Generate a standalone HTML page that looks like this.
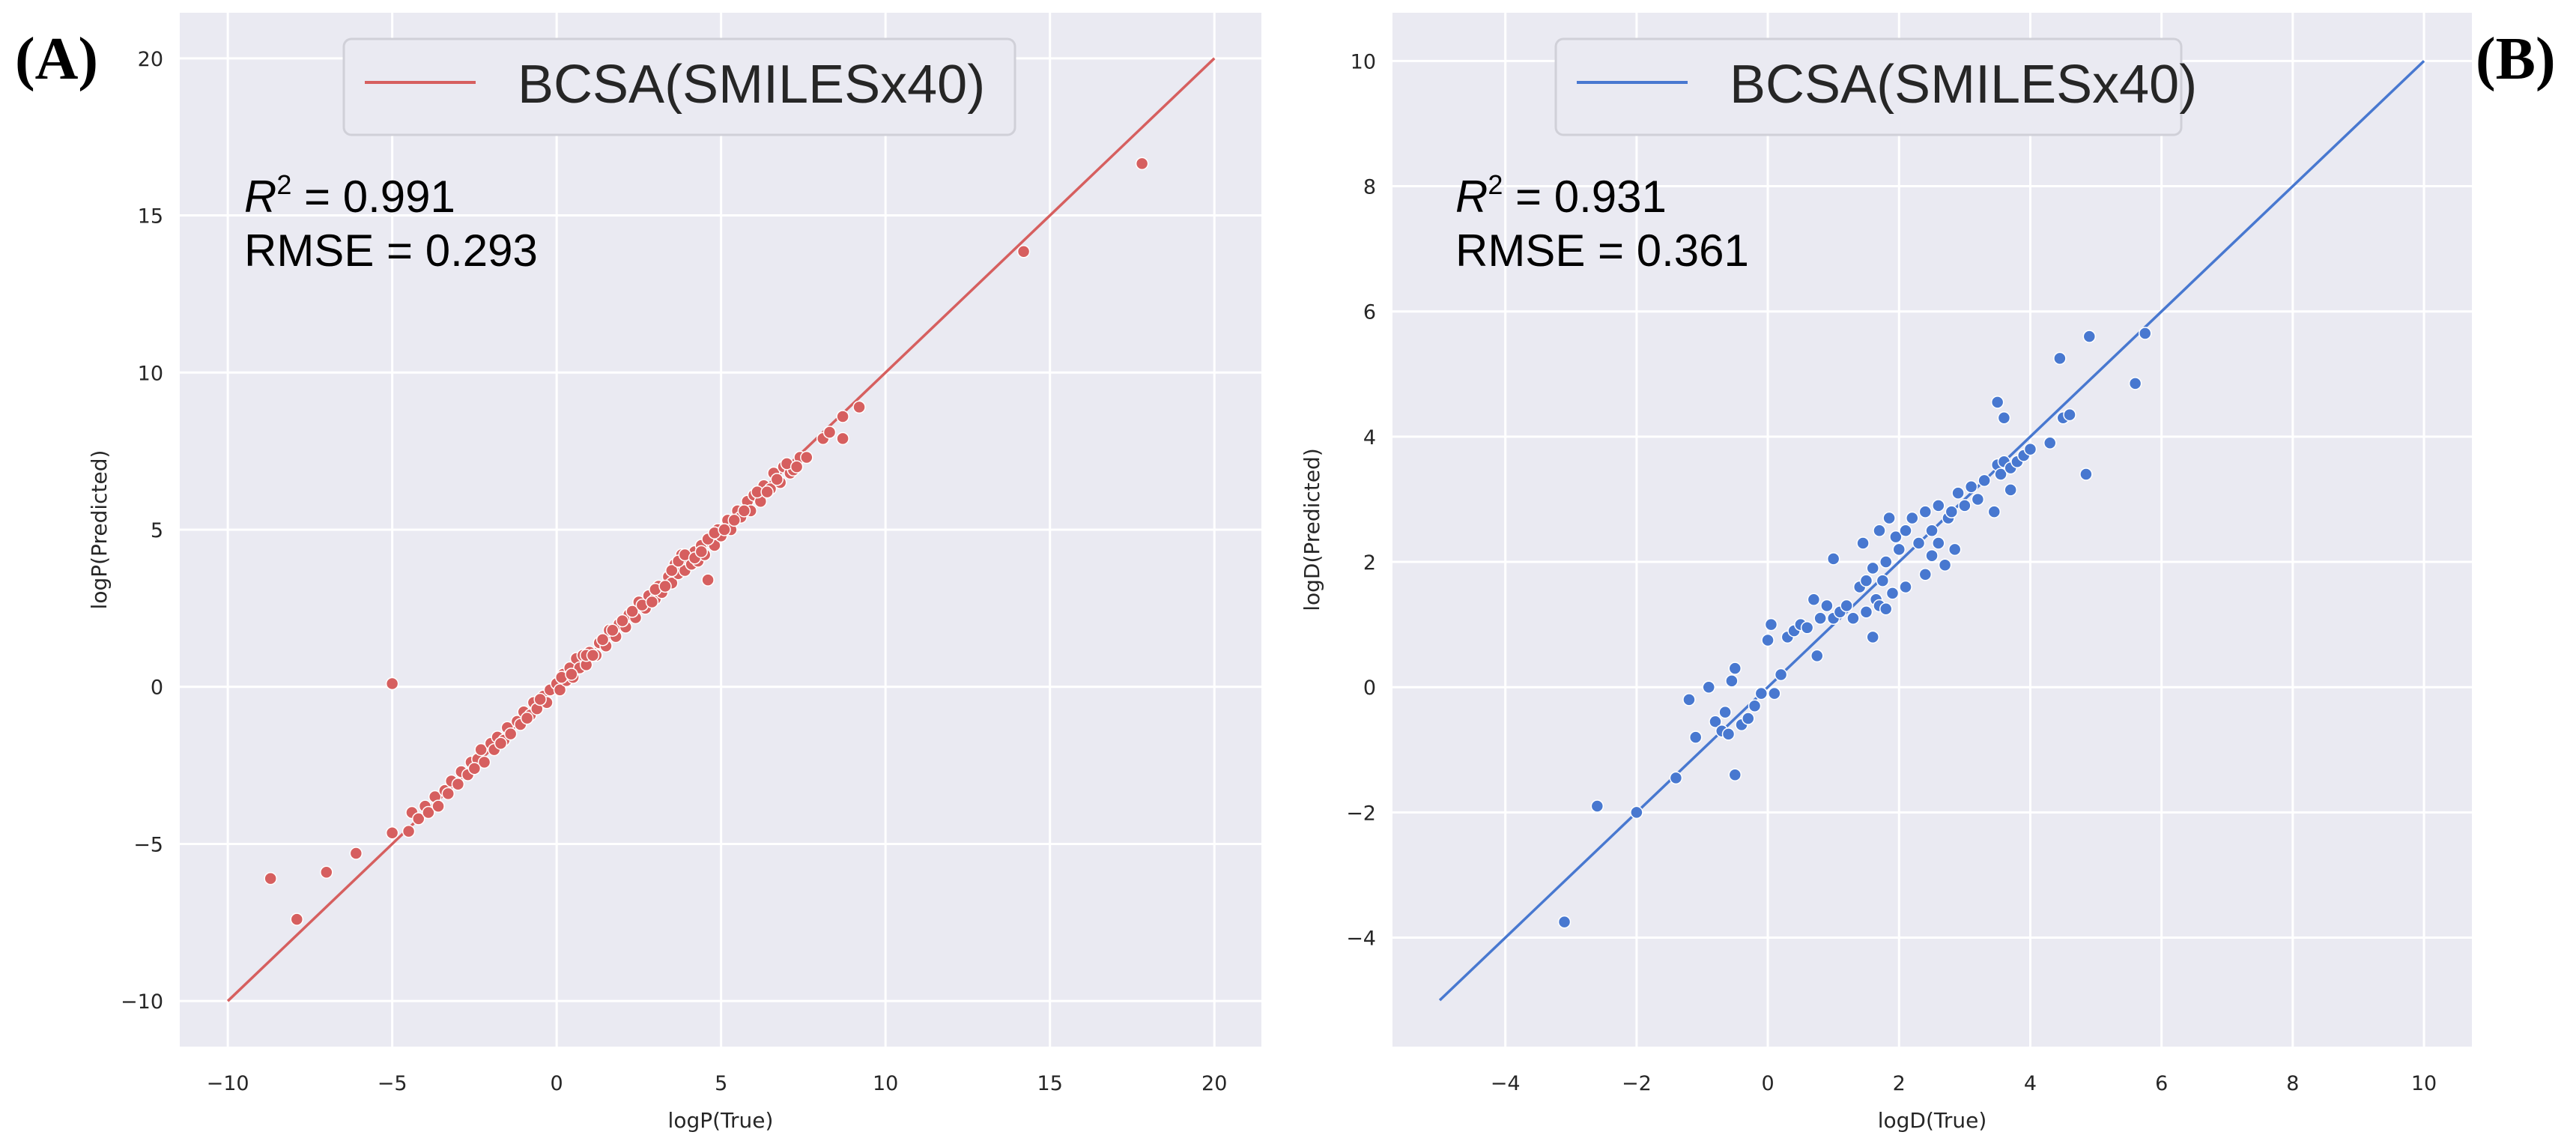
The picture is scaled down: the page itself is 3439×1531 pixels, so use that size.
<!DOCTYPE html>
<html><head><meta charset="utf-8"><style>
html,body{margin:0;padding:0;background:#fff;}
svg{display:block;}
</style></head><body>
<svg id="fig" width="3439" height="1531" xmlns="http://www.w3.org/2000/svg">
<text x="20" y="105" font-family="Liberation Serif, serif" font-weight="bold" font-size="80" fill="#000">(A)</text>
<text x="3305" y="105" font-family="Liberation Serif, serif" font-weight="bold" font-size="80" fill="#000">(B)</text>
<g id="pA"></g>
<g id="pB"></g>
</svg>
<script>
const ticksA = [-10,-5,0,5,10,15,20];
const ticksB = [-4,-2,0,2,4,6,8,10];
const pointsA = [
[-8.7,-6.1],[-7.9,-7.4],[-7.0,-5.9],[-6.1,-5.3],[-5.0,0.1],[-5.0,-4.65],[-4.5,-4.6],[-4.4,-4.0],[-4.2,-4.2],[-4.0,-3.8],[-3.9,-4.0],[-3.7,-3.5],[-3.6,-3.8],[-3.4,-3.3],[-3.2,-3.0],[-3.0,-3.1],[-2.9,-2.7],[-2.7,-2.8],[-2.6,-2.4],[-2.4,-2.3],[-2.3,-2.0],[-2.2,-2.4],[-2.0,-1.8],[-1.9,-2.0],[-1.8,-1.6],[-1.6,-1.7],[-1.5,-1.3],[-1.4,-1.5],[-1.2,-1.1],[-1.1,-1.2],[-1.0,-0.8],[-0.8,-0.9],[-0.7,-0.5],[-0.6,-0.7],[-0.4,-0.3],[-0.3,-0.5],[-0.2,-0.1],[0.0,0.1],[0.1,-0.1],[0.2,0.4],[0.3,0.2],[0.4,0.6],[0.5,0.3],[0.6,0.9],[0.7,0.6],[0.8,1.0],[0.9,0.7],[1.0,1.1],[1.2,1.0],[1.3,1.4],[1.5,1.3],[1.6,1.8],[1.8,1.6],[1.9,2.0],[2.1,1.9],[2.2,2.3],[2.4,2.2],[2.5,2.7],[2.7,2.5],[2.8,2.9],[3.0,2.8],[3.1,3.2],[3.2,3.0],[3.4,3.5],[3.5,3.3],[3.6,3.9],[3.7,3.6],[3.8,4.2],[3.9,3.7],[4.0,4.1],[4.1,3.9],[4.2,4.3],[4.3,4.0],[4.4,4.5],[4.5,4.2],[4.6,3.4],[4.7,4.6],[4.8,4.5],[4.9,5.0],[5.0,4.8],[5.2,5.3],[5.3,5.0],[5.5,5.6],[5.6,5.4],[5.8,5.9],[5.9,5.6],[6.0,6.1],[6.2,5.9],[6.3,6.4],[6.5,6.3],[6.6,6.8],[6.8,6.5],[6.9,7.0],[7.1,6.8],[7.2,6.9],[7.4,7.3],[7.6,7.3],[8.1,7.9],[8.3,8.1],[8.7,7.9],[8.7,8.6],[9.2,8.9],[14.2,13.85],[17.8,16.65],
[-3.3,-3.4],[-2.5,-2.6],[-1.7,-1.8],[-0.9,-1.0],[-0.5,-0.4],[0.15,0.3],[0.45,0.4],[0.9,1.0],[1.1,1.0],[1.4,1.5],[1.7,1.8],[2.0,2.1],[2.3,2.4],[2.6,2.6],[2.9,2.7],[3.0,3.1],[3.3,3.2],[3.5,3.7],[3.7,4.0],[3.9,4.2],[4.2,4.1],[4.4,4.3],[4.6,4.7],[4.8,4.9],[5.1,5.0],[5.4,5.3],[5.7,5.6],[6.1,6.2],[6.4,6.2],[6.7,6.6],[7.0,7.1],[7.3,7.0]
];
const pointsB = [
[-3.1,-3.75],[-2.6,-1.9],[-2.0,-2.0],[-1.4,-1.45],[-1.2,-0.2],[-1.1,-0.8],[-0.9,0.0],[-0.8,-0.55],[-0.7,-0.7],[-0.65,-0.4],[-0.6,-0.75],[-0.55,0.1],[-0.5,0.3],[-0.5,-1.4],[-0.4,-0.6],[-0.3,-0.5],[-0.2,-0.3],[-0.1,-0.1],[0.0,0.75],[0.05,1.0],[0.1,-0.1],[0.2,0.2],[0.3,0.8],[0.4,0.9],[0.5,1.0],[0.6,0.95],[0.7,1.4],[0.75,0.5],[0.8,1.1],[0.9,1.3],[1.0,2.05],[1.0,1.1],[1.1,1.2],[1.2,1.3],[1.3,1.1],[1.4,1.6],[1.45,2.3],[1.5,1.2],[1.5,1.7],[1.6,0.8],[1.6,1.9],[1.65,1.4],[1.7,2.5],[1.7,1.3],[1.75,1.7],[1.8,2.0],[1.8,1.25],[1.85,2.7],[1.9,1.5],[1.95,2.4],[2.0,2.2],[2.1,1.6],[2.1,2.5],[2.2,2.7],[2.3,2.3],[2.4,2.8],[2.4,1.8],[2.5,2.5],[2.5,2.1],[2.6,2.9],[2.6,2.3],[2.7,1.95],[2.75,2.7],[2.8,2.8],[2.85,2.2],[2.9,3.1],[3.0,2.9],[3.1,3.2],[3.2,3.0],[3.3,3.3],[3.45,2.8],[3.5,3.55],[3.5,4.55],[3.55,3.4],[3.6,3.6],[3.6,4.3],[3.7,3.15],[3.7,3.5],[3.8,3.6],[3.9,3.7],[4.0,3.8],[4.3,3.9],[4.45,5.25],[4.5,4.3],[4.6,4.35],[4.85,3.4],[4.9,5.6],[5.6,4.85],[5.75,5.65]
];
const NS='http://www.w3.org/2000/svg';
function mk(p,tag,attrs){const e=document.createElementNS(NS,tag);for(const k in attrs)e.setAttribute(k,attrs[k]);p.appendChild(e);return e;}
function panel(g,cfg){
  const sx=v=>cfg.x0+(v-cfg.xmin)*(cfg.x1-cfg.x0)/(cfg.xmax-cfg.xmin);
  const sy=v=>cfg.y0-(v-cfg.ymin)*(cfg.y0-cfg.y1)/(cfg.ymax-cfg.ymin);
  const bg=mk(g,'rect',{x:cfg.x0,y:cfg.y1,width:cfg.x1-cfg.x0,height:cfg.y0-cfg.y1,fill:'#eaeaf2'});
  
  
  cfg.xt.forEach(t=>{const l=mk(g,'line',{x1:sx(t),x2:sx(t),y1:cfg.y1,y2:cfg.y0,stroke:'#fff','stroke-width':3});
    
    
    const tx=mk(g,'text',{x:sx(t),y:cfg.y0+58,'text-anchor':'middle','font-family':'DejaVu Sans, Liberation Sans, sans-serif','font-size':27,fill:'#262626'});
    tx.textContent=String(t).replace('-','\u2212');
    
    });
  cfg.yt.forEach(t=>{const l=mk(g,'line',{x1:cfg.x0,x2:cfg.x1,y1:sy(t),y2:sy(t),stroke:'#fff','stroke-width':3});
    
    
    const tx=mk(g,'text',{x:cfg.x0-22,y:sy(t)+10,'text-anchor':'end','font-family':'DejaVu Sans, Liberation Sans, sans-serif','font-size':27,fill:'#262626'});
    tx.textContent=String(t).replace('-','\u2212');
    
    });
  const ln=mk(g,'line',{x1:sx(cfg.lmin),y1:sy(cfg.lmin),x2:sx(cfg.lmax),y2:sy(cfg.lmax),stroke:cfg.color,'stroke-width':3.5});
  
  
  cfg.pts.forEach(p=>{const c=mk(g,'circle',{cx:sx(p[0]),cy:sy(p[1]),r:8,fill:cfg.color,stroke:'#fff','stroke-width':1.5});
    
    });
  const xl=mk(g,'text',{x:(cfg.x0+cfg.x1)/2,y:cfg.y0+108,'text-anchor':'middle','font-family':'DejaVu Sans, Liberation Sans, sans-serif','font-size':28,fill:'#262626'});
  xl.textContent=cfg.xlab;
  
  
  const yx=cfg.x0-98, yy=(cfg.y0+cfg.y1)/2;
  const yl=mk(g,'text',{x:yx,y:yy,'text-anchor':'middle','font-family':'DejaVu Sans, Liberation Sans, sans-serif','font-size':28,fill:'#262626',transform:`rotate(-90 ${yx} ${yy})`});
  yl.textContent=cfg.ylab;
  
  
  const lg=mk(g,'rect',{x:cfg.lx0,y:52,width:cfg.lx1-cfg.lx0,height:128,rx:10,fill:'#eaeaf2',stroke:'#d0d0d8','stroke-width':3});
  
  
  const ls=mk(g,'line',{x1:cfg.lx0+28,x2:cfg.lx0+176,y1:110,y2:110,stroke:cfg.color,'stroke-width':4});
  
  
  const lt=mk(g,'text',{x:cfg.lx0+232,y:137,'font-family':'Liberation Sans, sans-serif','font-size':72,fill:'#262626'});
  lt.textContent='BCSA(SMILESx40)';
  
  
  const r2=mk(g,'text',{x:cfg.sx,y:283,'font-family':'Liberation Sans, sans-serif','font-size':60,fill:'#000'});
  r2.innerHTML='<tspan font-style="italic">R</tspan><tspan font-size="36" dy="-24">2</tspan><tspan dy="24"> = '+cfg.r2+'</tspan>';
  
  
  const rm=mk(g,'text',{x:cfg.sx,y:355,'font-family':'Liberation Sans, sans-serif','font-size':60,fill:'#000'});
  rm.textContent='RMSE = '+cfg.rmse;
  
  
}
panel(document.getElementById('pA'),{x0:240,x1:1684,y0:1397,y1:17,xmin:-11.46,xmax:21.43,ymin:-11.45,ymax:21.45,
  xt:ticksA,yt:ticksA,pts:pointsA,color:'#d65f5f',lmin:-10,lmax:20,xlab:'logP(True)',ylab:'logP(Predicted)',
  lx0:459,lx1:1355,sx:326,r2:'0.991',rmse:'0.293'});
panel(document.getElementById('pB'),{x0:1859,x1:3300,y0:1397,y1:17,xmin:-5.72,xmax:10.73,ymin:-5.74,ymax:10.77,
  xt:ticksB,yt:ticksB,pts:pointsB,color:'#4878d0',lmin:-5,lmax:10,xlab:'logD(True)',ylab:'logD(Predicted)',
  lx0:2077,lx1:2912,sx:1943,r2:'0.931',rmse:'0.361'});
</script>
</body></html>
